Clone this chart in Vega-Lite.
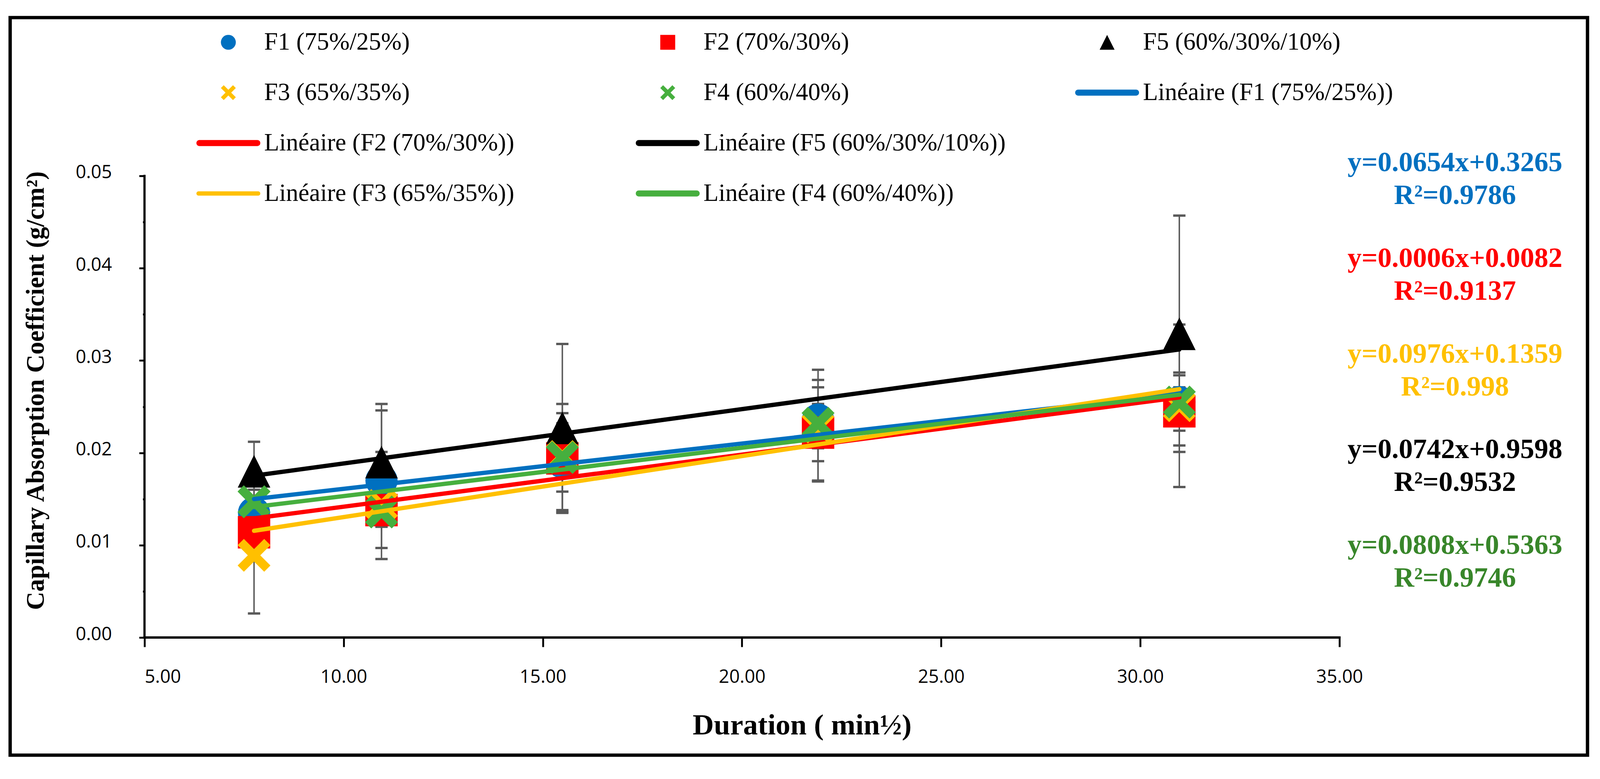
{
  "$schema": "https://vega.github.io/schema/vega-lite/v6.json",
  "width": 4096,
  "height": 1993,
  "autosize": {"type": "fit", "contains": "padding"},
  "padding": {"left": 26, "top": 45, "right": 32, "bottom": 61},
  "background": "white",
  "datasets": {
    "pts": [
      {"k": "F1 (75%/25%)", "x": 7.75, "y": 0.0135, "lo": 0.0121, "hi": 0.0150},
      {"k": "F1 (75%/25%)", "x": 10.95, "y": 0.0170, "lo": 0.0097, "hi": 0.0246},
      {"k": "F1 (75%/25%)", "x": 15.49, "y": 0.0190, "lo": 0.0135, "hi": 0.0243},
      {"k": "F1 (75%/25%)", "x": 21.91, "y": 0.0236, "lo": 0.0170, "hi": 0.0290},
      {"k": "F1 (75%/25%)", "x": 30.98, "y": 0.0255, "lo": 0.0224, "hi": 0.0287},
      {"k": "F2 (70%/30%)", "x": 7.75, "y": 0.0114, "lo": 0.0098, "hi": 0.0130},
      {"k": "F2 (70%/30%)", "x": 10.95, "y": 0.0138, "lo": 0.0120, "hi": 0.0156},
      {"k": "F2 (70%/30%)", "x": 15.49, "y": 0.0194, "lo": 0.0138, "hi": 0.0253},
      {"k": "F2 (70%/30%)", "x": 21.91, "y": 0.0222, "lo": 0.0169, "hi": 0.0279},
      {"k": "F2 (70%/30%)", "x": 30.98, "y": 0.0245, "lo": 0.0208, "hi": 0.0284},
      {"k": "F5 (60%/30%/10%)", "x": 7.75, "y": 0.0180, "lo": 0.0148, "hi": 0.0212},
      {"k": "F5 (60%/30%/10%)", "x": 10.95, "y": 0.0190, "lo": 0.0127, "hi": 0.0253},
      {"k": "F5 (60%/30%/10%)", "x": 15.49, "y": 0.0227, "lo": 0.0136, "hi": 0.0318},
      {"k": "F5 (60%/30%/10%)", "x": 30.98, "y": 0.0329, "lo": 0.0201, "hi": 0.0457},
      {"k": "F3 (65%/35%)", "x": 7.75, "y": 0.0089, "lo": 0.0026, "hi": 0.0152},
      {"k": "F3 (65%/35%)", "x": 10.95, "y": 0.0143, "lo": 0.0085, "hi": 0.0201},
      {"k": "F3 (65%/35%)", "x": 15.49, "y": 0.0196, "lo": 0.0158, "hi": 0.0232},
      {"k": "F3 (65%/35%)", "x": 21.91, "y": 0.0228, "lo": 0.0191, "hi": 0.0271},
      {"k": "F3 (65%/35%)", "x": 30.98, "y": 0.0251, "lo": 0.0163, "hi": 0.0339},
      {"k": "F4 (60%/40%)", "x": 7.75, "y": 0.0147, "lo": 0.0133, "hi": 0.0160},
      {"k": "F4 (60%/40%)", "x": 10.95, "y": 0.0136, "lo": 0.0120, "hi": 0.0152},
      {"k": "F4 (60%/40%)", "x": 15.49, "y": 0.0195, "lo": 0.0175, "hi": 0.0215},
      {"k": "F4 (60%/40%)", "x": 21.91, "y": 0.0232, "lo": 0.0205, "hi": 0.0253},
      {"k": "F4 (60%/40%)", "x": 30.98, "y": 0.0255, "lo": 0.0240, "hi": 0.0271}
    ],
    "trend": [
      {"k": "Linéaire (F1 (75%/25%))", "x": 7.75, "y": 0.0150},
      {"k": "Linéaire (F1 (75%/25%))", "x": 30.98, "y": 0.0264},
      {"k": "Linéaire (F2 (70%/30%))", "x": 7.75, "y": 0.0129},
      {"k": "Linéaire (F2 (70%/30%))", "x": 30.98, "y": 0.0260},
      {"k": "Linéaire (F5 (60%/30%/10%))", "x": 7.75, "y": 0.01753},
      {"k": "Linéaire (F5 (60%/30%/10%))", "x": 30.98, "y": 0.0312},
      {"k": "Linéaire (F3 (65%/35%))", "x": 7.75, "y": 0.01156},
      {"k": "Linéaire (F3 (65%/35%))", "x": 30.98, "y": 0.0269},
      {"k": "Linéaire (F4 (60%/40%))", "x": 7.75, "y": 0.01414},
      {"k": "Linéaire (F4 (60%/40%))", "x": 30.98, "y": 0.0263}
    ],
    "fits": [
      {"s": "F1", "fit": ["y=0.0654x+0.3265", "R²=0.9786"]},
      {"s": "F2", "fit": ["y=0.0006x+0.0082", "R²=0.9137"]},
      {"s": "F3", "fit": ["y=0.0976x+0.1359", "R²=0.998"]},
      {"s": "F5", "fit": ["y=0.0742x+0.9598", "R²=0.9532"]},
      {"s": "F4", "fit": ["y=0.0808x+0.5363", "R²=0.9746"]}
    ]
  },
  "layer": [
    {
      "layer": [
        {
          "data": {"values": [{"line": "x axis"}]},
          "mark": {"type": "rule", "color": "#000000", "strokeWidth": 6, "strokeCap": "square"},
          "encoding": {
            "x": {"datum": 5, "type": "quantitative", "title": "Duration ( min½)"},
            "x2": {"datum": 35},
            "y": {"datum": 0, "type": "quantitative", "title": "Capillary Absorption Coefficient (g/cm²)"}
          }
        },
        {
          "data": {"values": [{"line": "y axis"}]},
          "mark": {"type": "rule", "color": "#000000", "strokeWidth": 5.6, "strokeCap": "square"},
          "encoding": {
            "x": {"datum": 5, "type": "quantitative", "title": "Duration ( min½)"},
            "y": {"datum": 0, "type": "quantitative", "title": "Capillary Absorption Coefficient (g/cm²)"},
            "y2": {"datum": 0.05}
          }
        },
        {
          "data": {"name": "pts"},
          "mark": {"type": "rule", "color": "#595959", "strokeWidth": 3.7},
          "encoding": {
            "x": {"field": "x", "type": "quantitative", "title": "Duration ( min½)"},
            "y": {"field": "lo", "type": "quantitative", "title": "Capillary Absorption Coefficient (g/cm²)"},
            "y2": {"field": "hi"}
          }
        },
        {
          "data": {"name": "pts"},
          "mark": {"type": "tick", "orient": "horizontal", "color": "#595959", "size": 31.5, "thickness": 6, "opacity": 1},
          "encoding": {
            "x": {"field": "x", "type": "quantitative", "title": "Duration ( min½)"},
            "y": {"field": "lo", "type": "quantitative", "title": "Capillary Absorption Coefficient (g/cm²)"}
          }
        },
        {
          "data": {"name": "pts"},
          "mark": {"type": "tick", "orient": "horizontal", "color": "#595959", "size": 31.5, "thickness": 6, "opacity": 1},
          "encoding": {
            "x": {"field": "x", "type": "quantitative", "title": "Duration ( min½)"},
            "y": {"field": "hi", "type": "quantitative", "title": "Capillary Absorption Coefficient (g/cm²)"}
          }
        },
        {
          "data": {"name": "pts"},
          "mark": {"type": "point", "filled": true, "opacity": 1, "strokeWidth": 0},
          "encoding": {
            "x": {
              "field": "x", "type": "quantitative",
              "title": "Duration ( min½)",
              "scale": {"domain": [1.6273, 41.2273], "nice": false, "zero": false},
              "axis": {
                "values": [5, 10, 15, 20, 25, 30, 35],
                "format": ".2f",
                "domain": false,
                "offset": -301,
                "tickSize": 24,
                "labelPadding": 77,
                "labelBaseline": "middle",
                "labelFlush": false,
                "labelAlign": {"condition": {"test": "datum.value == 5", "value": "left"}, "value": "center"},
                "titleX": 2027,
                "titleY": 224,
                "titleBaseline": "middle",
                "titleAlign": "center"
              }
            },
            "y": {
              "field": "y", "type": "quantitative",
              "title": "Capillary Absorption Coefficient (g/cm²)",
              "scale": {"domain": [-0.012743, 0.067146], "nice": false, "zero": false},
              "axis": {
                "values": [0, 0.005, 0.01, 0.015, 0.02, 0.025, 0.03, 0.035, 0.04, 0.045, 0.05],
                "labelExpr": "round(datum.value*1000) % 10 == 0 ? format(datum.value, '.2f') : ''",
                "tickSize": {"condition": {"test": "round(datum.value*1000) % 10 != 0", "value": 4.6}, "value": 13.9},
                "domain": false,
                "offset": -344,
                "titleX": -279,
                "titleY": 954,
                "titleAngle": -90,
                "titleAlign": "center",
                "titleBaseline": "middle",
                "labelPadding": 70,
                "labelOffset": -8
              }
            },
            "color": {
              "field": "k", "type": "nominal",
              "scale": {
                "domain": ["F1 (75%/25%)", "F2 (70%/30%)", "F5 (60%/30%/10%)", "F3 (65%/35%)", "F4 (60%/40%)", "Linéaire (F1 (75%/25%))", "Linéaire (F2 (70%/30%))", "Linéaire (F5 (60%/30%/10%))", " ", "Linéaire (F3 (65%/35%))", "Linéaire (F4 (60%/40%))"],
                "range": ["#0070C0", "#FF0000", "#000000", "#FFC000", "#46AF3E", "#0070C0", "#FF0000", "#000000", "rgba(0,0,0,0)", "#FFC000", "#46AF3E"]
              },
              "legend": {
                "orient": "none",
                "direction": "horizontal",
                "legendX": 477,
                "legendY": 31.5,
                "columns": 3,
                "gridAlign": "all",
                "columnPadding": 176.8,
                "rowPadding": 65,
                "title": null,
                "padding": 0,
                "labelFont": "Liberation Serif",
                "labelFontSize": 63,
                "labelColor": "#000000",
                "labelLimit": 3000,
                "symbolSize": 1461,
                "symbolStrokeWidth": 0,
                "symbolOffset": 50.1,
                "labelOffset": 60.2
              }
            },
            "shape": {
              "field": "k", "type": "nominal",
              "scale": {
                "domain": ["F1 (75%/25%)", "F2 (70%/30%)", "F5 (60%/30%/10%)", "F3 (65%/35%)", "F4 (60%/40%)", "Linéaire (F1 (75%/25%))", "Linéaire (F2 (70%/30%))", "Linéaire (F5 (60%/30%/10%))", " ", "Linéaire (F3 (65%/35%))", "Linéaire (F4 (60%/40%))"],
                "range": [
                  "circle",
                  "square",
                  "M0,-1L1,1L-1,1Z",
                  "M-1,-0.62L-0.62,-1L0,-0.38L0.62,-1L1,-0.62L0.38,0L1,0.62L0.62,1L0,0.38L-0.62,1L-1,0.62L-0.38,0Z",
                  "M-1,-0.62L-0.62,-1L0,-0.38L0.62,-1L1,-0.62L0.38,0L1,0.62L0.62,1L0,0.38L-0.62,1L-1,0.62L-0.38,0Z",
                  "M-3.88,-0.4L3.88,-0.4A0.4,0.4 0 0 1 3.88,0.4L-3.88,0.4A0.4,0.4 0 0 1 -3.88,-0.4Z",
                  "M-3.88,-0.4L3.88,-0.4A0.4,0.4 0 0 1 3.88,0.4L-3.88,0.4A0.4,0.4 0 0 1 -3.88,-0.4Z",
                  "M-3.88,-0.4L3.88,-0.4A0.4,0.4 0 0 1 3.88,0.4L-3.88,0.4A0.4,0.4 0 0 1 -3.88,-0.4Z",
                  "circle",
                  "M-3.99,-0.29L3.99,-0.29A0.29,0.29 0 0 1 3.99,0.29L-3.99,0.29A0.29,0.29 0 0 1 -3.99,-0.29Z",
                  "M-3.88,-0.4L3.88,-0.4A0.4,0.4 0 0 1 3.88,0.4L-3.88,0.4A0.4,0.4 0 0 1 -3.88,-0.4Z"
                ]
              }
            },
            "size": {
              "field": "k", "type": "nominal",
              "scale": {
                "domain": ["F1 (75%/25%)", "F2 (70%/30%)", "F5 (60%/30%/10%)", "F3 (65%/35%)", "F4 (60%/40%)"],
                "range": [6808, 7125, 6808, 3772, 3772]
              },
              "legend": null
            }
          }
        },
        {
          "data": {"name": "trend"},
          "mark": {"type": "line", "strokeCap": "round"},
          "encoding": {
            "x": {"field": "x", "type": "quantitative", "title": "Duration ( min½)"},
            "y": {"field": "y", "type": "quantitative", "title": "Capillary Absorption Coefficient (g/cm²)"},
            "detail": {"field": "k", "type": "nominal"},
            "stroke": {
              "field": "k", "type": "nominal",
              "scale": {
                "domain": ["Linéaire (F1 (75%/25%))", "Linéaire (F2 (70%/30%))", "Linéaire (F5 (60%/30%/10%))", "Linéaire (F3 (65%/35%))", "Linéaire (F4 (60%/40%))"],
                "range": ["#0070C0", "#FF0000", "#000000", "#FFC000", "#46AF3E"]
              },
              "legend": null
            },
            "strokeWidth": {
              "field": "k", "type": "nominal",
              "scale": {
                "domain": ["Linéaire (F1 (75%/25%))", "Linéaire (F2 (70%/30%))", "Linéaire (F5 (60%/30%/10%))", "Linéaire (F3 (65%/35%))", "Linéaire (F4 (60%/40%))"],
                "range": [11, 11, 13, 8, 11]
              },
              "legend": null
            }
          }
        }
      ]
    },
    {
      "data": {"name": "fits"},
      "mark": {"type": "text", "font": "Liberation Serif", "fontWeight": "bold", "fontSize": 72, "lineHeight": 84, "align": "center", "baseline": "middle"},
      "encoding": {
        "x": {"datum": 37.9, "type": "quantitative", "title": "Duration ( min½)"},
        "y": {
          "field": "s", "type": "nominal",
          "scale": {"type": "point", "domain": ["F1", "F2", "F3", "F5", "F4"], "range": [371, 1350], "padding": 0},
          "axis": null
        },
        "text": {"field": "fit"},
        "fill": {
          "field": "s", "type": "nominal",
          "scale": {"domain": ["F1", "F2", "F3", "F5", "F4"], "range": ["#0070C0", "#FF0000", "#FFC000", "#000000", "#38862A"]},
          "legend": null
        }
      }
    }
  ],
  "resolve": {"scale": {"y": "independent"}},
  "config": {
    "view": {"stroke": "#000000", "strokeWidth": 8.6},
    "axis": {
      "tickColor": "#000000",
      "tickWidth": 4.8,
      "grid": false,
      "labelFont": "Open Sans",
      "labelFontSize": 47,
      "labelColor": "#000000",
      "titleFont": "Liberation Serif",
      "titleFontWeight": "bold",
      "titleColor": "#000000"
    },
    "axisX": {"titleFontSize": 75},
    "axisY": {"titleFontSize": 65}
  }
}
